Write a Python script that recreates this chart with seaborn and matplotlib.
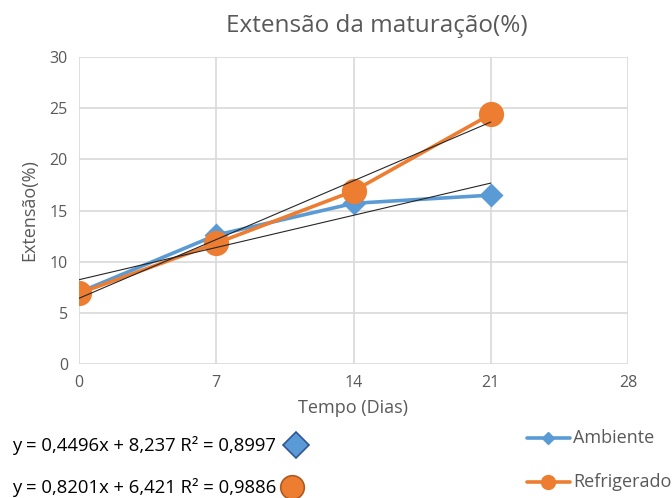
import numpy as np
import pandas as pd
import matplotlib
matplotlib.use("Agg")
import matplotlib.pyplot as plt
from matplotlib.lines import Line2D
import seaborn as sns

# Data
dias = [0, 7, 14, 21]
ambiente = [7.0, 12.6, 15.7, 16.5]
refrigerado = [6.9, 11.8, 16.9, 24.4]
series_names = ["Ambiente", "Refrigerado"]

# Linear trendline coefficients and R²
trend_slope = [0.4496, 0.8201]
trend_intercept = [8.237, 6.421]
trend_r2 = [0.8997, 0.9886]

x_ticks = [0, 7, 14, 21, 28]
y_ticks = [0, 5, 10, 15, 20, 25, 30]

sns.set_theme(style="white")
plt.rcParams["font.family"] = ["Open Sans", "DejaVu Sans"]

blue = "#5B9BD5"
orange = "#ED7D31"
text_gray = "#595959"
grid_gray = "#D9D9D9"

df = pd.DataFrame({
    "Tempo": dias * 2,
    "Extensao": ambiente + refrigerado,
    "Serie": [series_names[0]] * len(dias) + [series_names[1]] * len(dias),
})

fig = plt.figure(figsize=(6.72, 4.98), dpi=100)
ax = fig.add_axes([79 / 672, 1 - 364 / 498, (628 - 79) / 672, (364 - 57) / 498])

sns.lineplot(data=df, x="Tempo", y="Extensao", hue="Serie", style="Serie",
             palette=[blue, orange], markers=["D", "o"], dashes=False,
             linewidth=2.6, markersize=0, legend=False, ax=ax, zorder=3)

# Markers drawn on top of the lines
sns.scatterplot(x=dias, y=ambiente, marker="D", s=150, color=blue,
                edgecolor=blue, linewidth=0, ax=ax, zorder=4, legend=False)
sns.scatterplot(x=dias, y=refrigerado, marker="o", s=330, color=orange,
                edgecolor=orange, linewidth=0, ax=ax, zorder=5, legend=False)

# Linear trendlines
xs = np.array([dias[0], dias[-1]])
for m, b in zip(trend_slope, trend_intercept):
    ax.plot(xs, m * xs + b, color="#262626", linewidth=0.8, zorder=6)

ax.set_xlim(0, 28)
ax.set_ylim(0, 30)
ax.set_xticks(x_ticks)
ax.set_yticks(y_ticks)
ax.grid(True, color=grid_gray, linewidth=1.2)
for s in ax.spines.values():
    s.set_visible(False)
ax.tick_params(axis="both", length=0, labelsize=11.5, colors=text_gray, pad=8)
ax.set_xlabel("Tempo (Dias)", fontsize=13, color=text_gray, labelpad=6)
ax.set_ylabel("Extensão(%)", fontsize=13, color=text_gray, labelpad=8)

fig.text(377 / 672, 1 - 26 / 498, "Extensão da maturação(%)", ha="center",
         va="center", fontsize=17.5, color=text_gray)


def fmt(v, nd):
    return f"{v:.{nd}f}".replace(".", ",")


# Trendline equations with series markers
eq_y = [445, 487]
mk = ["D", "o"]
mk_x = [296, 292]
mk_size = [13, 17]
mk_edge = ["#2F5597", "#AE5A21"]
for i in range(2):
    label = (f"y = {fmt(trend_slope[i], 4)}x + {fmt(trend_intercept[i], 3)} "
             f"R² = {fmt(trend_r2[i], 4)}")
    fig.text(12 / 672, 1 - eq_y[i] / 498, label, ha="left", va="center",
             fontsize=13.3, color="#000000")
    fig.add_artist(Line2D([mk_x[i] / 672], [1 - eq_y[i] / 498], marker=mk[i],
                          markersize=mk_size[i],
                          markerfacecolor=[blue, orange][i],
                          markeredgecolor=mk_edge[i], markeredgewidth=1.2,
                          linestyle="none", transform=fig.transFigure))

# Series legend
leg_y = [438, 482]
for i, name in enumerate(series_names):
    yy = 1 - leg_y[i] / 498
    col = [blue, orange][i]
    fig.add_artist(Line2D([527 / 672, 570 / 672], [yy, yy], color=col,
                          linewidth=2.6, transform=fig.transFigure))
    fig.add_artist(Line2D([548 / 672], [yy], marker=mk[i],
                          markersize=[6, 10][i], color=col,
                          linestyle="none", transform=fig.transFigure))
    fig.text(573 / 672, yy, name, ha="left", va="center", fontsize=13,
             color=text_gray)

fig.savefig("out.png", dpi=100)
